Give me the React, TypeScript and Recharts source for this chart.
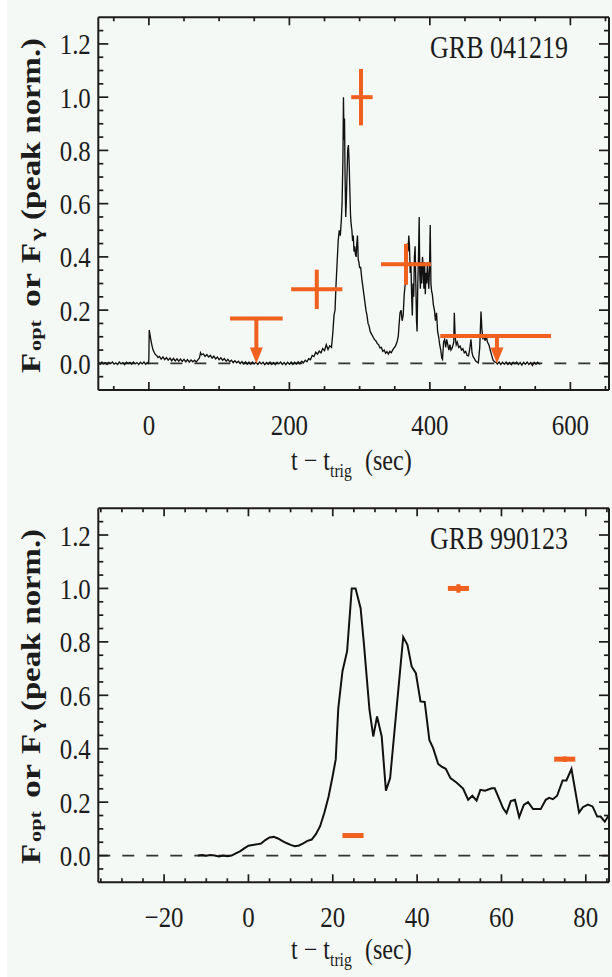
import React from 'react';
import { ComposedChart, Line, Scatter, XAxis, YAxis, ErrorBar, ReferenceLine } from 'recharts';

const ORANGE = '#f0601e';
const INK = '#1c1c1c';
const FONT = '"Liberation Serif", "Times New Roman", serif';

type Pt = [number, number];

// ---------- GRB 041219: gamma-ray light curve (t - t_trig [s], peak-normalised flux) ----------
const grb041219PreTrigger: Pt[] = [
  [-72, 0.004], [-69.5, -0.003], [-67, 0.005], [-64.5, -0.002], [-62, 0.003], [-59.5, -0.004],
  [-57, 0.004], [-54.5, -0.001], [-52, 0.005], [-49.5, -0.003], [-47, 0.002], [-44.5, -0.004],
  [-42, 0.005], [-39.5, -0.002], [-37, 0.003], [-34.5, -0.005], [-32, 0.004], [-29.5, -0.001],
  [-27, 0.004], [-24.5, -0.003], [-22, 0.005], [-19.5, -0.002], [-17, 0.003], [-14.5, -0.004],
  [-12, 0.004], [-9.5, -0.002], [-7, 0.005], [-4.5, -0.003], [-2, 0.003], [-0.5, 0.0],
];

const grb041219Precursor: Pt[] = [
  [0, 0.02], [0.5, 0.125], [1.5, 0.11], [3, 0.085], [4.5, 0.066], [6, 0.05], [7.5, 0.042],
  [9, 0.034], [11, 0.03], [13, 0.022], [15, 0.026], [17.5, 0.016], [20, 0.024], [22.5, 0.014],
  [25, 0.022], [27.5, 0.012], [30, 0.02], [32.5, 0.01], [35, 0.019], [37.5, 0.009], [40, 0.017],
  [42.5, 0.008], [45, 0.016], [47.5, 0.007], [50, 0.015], [52.5, 0.006], [55, 0.014],
  [57.5, 0.005], [60, 0.013], [62.5, 0.006], [65, 0.012], [67.5, 0.005], [70, 0.014],
];

const grb041219Bump: Pt[] = [
  [72, 0.02], [73.5, 0.04], [75, 0.032], [77.5, 0.036], [80, 0.026], [82.5, 0.033], [85, 0.024],
  [87.5, 0.03], [90, 0.02], [92.5, 0.027], [95, 0.017], [97.5, 0.024], [100, 0.014], [102.5, 0.021],
  [105, 0.012], [107.5, 0.018], [110, 0.008], [112.5, 0.015], [115, 0.006], [117.5, 0.012],
  [120, 0.003], [122.5, 0.01], [125, 0.002], [127.5, 0.008], [130, -0.001], [132.5, 0.007],
  [135, -0.002], [137.5, 0.006], [140, -0.003], [142.5, 0.005], [145, -0.003], [147.5, 0.005],
  [150, -0.002],
];

const grb041219Quiet: Pt[] = [
  [152.5, 0.004], [155, -0.004], [157.5, 0.005], [160, -0.002], [162.5, 0.004], [165, -0.005],
  [167.5, 0.003], [170, -0.003], [172.5, 0.005], [175, -0.004], [177.5, 0.003], [180, -0.005],
  [182.5, 0.004], [185, -0.002], [187.5, 0.005], [190, -0.004], [192.5, 0.003], [195, -0.005],
  [197.5, 0.004], [200, -0.003], [202.5, 0.005], [205, -0.004], [207.5, 0.004], [210, -0.002],
  [212.5, 0.006], [215, -0.001], [217.5, 0.008], [220, 0.002], [222.5, 0.012], [225, 0.006],
  [227.5, 0.018], [230, 0.014], [232.5, 0.03], [235, 0.026], [237.5, 0.042], [240, 0.035],
  [242.5, 0.046], [245, 0.04], [247.5, 0.056], [250, 0.048], [252.5, 0.07], [255, 0.052],
  [257.5, 0.066], [260, 0.06],
];

const grb041219MainPulse: Pt[] = [
  [262, 0.12], [263.5, 0.18], [265, 0.2], [266.5, 0.3], [268, 0.38], [269.5, 0.46], [271, 0.5],
  [272.5, 0.48], [274, 0.54], [275, 0.6], [276.2, 0.76], [277, 1.0], [277.8, 0.84], [278.5, 0.92],
  [279.3, 0.7], [280.2, 0.55], [281, 0.6], [282, 0.7], [283, 0.8], [284, 0.82], [285, 0.76],
  [286, 0.66], [287, 0.56], [288, 0.52], [289, 0.5], [290, 0.46], [291, 0.48], [292, 0.42],
  [293, 0.44], [294, 0.41], [295, 0.4], [296, 0.45], [297, 0.48], [298, 0.39], [299, 0.38],
  [300, 0.36], [301.5, 0.36], [303, 0.32], [304.5, 0.29], [306, 0.26], [307.5, 0.23], [309, 0.2],
  [310.5, 0.18], [312, 0.15], [313.5, 0.14], [315, 0.12], [317, 0.11], [319, 0.1], [321, 0.09],
  [323, 0.085], [325, 0.075], [327, 0.07], [329, 0.058], [331, 0.06], [333, 0.045], [335, 0.05],
  [337, 0.038], [339, 0.044], [341, 0.035], [343, 0.045], [345, 0.04], [347, 0.05], [349, 0.058],
  [351, 0.065], [353, 0.078], [355, 0.1],
];

const grb041219SecondPulse: Pt[] = [
  [356, 0.14], [357.5, 0.19], [359, 0.2], [360.5, 0.16], [362, 0.18], [363.5, 0.26], [365, 0.3],
  [366.5, 0.4], [368, 0.45], [369, 0.42], [370, 0.48], [371, 0.44], [372, 0.34], [373, 0.38],
  [374, 0.26], [375, 0.18], [376, 0.3], [377, 0.25], [378, 0.4], [379, 0.44], [380, 0.3],
  [381, 0.16], [381.8, 0.12], [382.8, 0.3], [383.8, 0.4], [384.8, 0.55], [385.6, 0.34],
  [386.5, 0.28], [387.5, 0.38], [388.5, 0.3], [389.5, 0.4], [390.5, 0.36], [391.5, 0.28],
  [392.5, 0.38], [393.5, 0.26], [394.5, 0.34], [395.5, 0.3], [396.5, 0.38], [397.5, 0.32],
  [398.5, 0.28], [399.5, 0.36], [400.5, 0.52], [401.5, 0.3], [402.5, 0.27], [403.5, 0.26],
  [405, 0.22], [406.5, 0.2], [408, 0.16], [409.5, 0.19], [411, 0.12], [412.5, 0.1], [414, 0.07],
  [415.5, 0.05], [417, 0.02], [418, 0.015],
];

const grb041219Tail: Pt[] = [
  [419.5, 0.08], [421, 0.09], [422.5, 0.06], [424, 0.09], [425.5, 0.07], [427, 0.05], [428.5, 0.07],
  [430, 0.05], [432, 0.06], [434, 0.08], [434.8, 0.19], [436, 0.1], [437.5, 0.07], [439, 0.08],
  [441, 0.06], [443, 0.065], [445, 0.05], [447, 0.055], [449, 0.04], [451, 0.045], [453, 0.03],
  [455, 0.028], [456.5, 0.05], [458.5, 0.09], [460, 0.04], [461.5, 0.025], [463, 0.02], [465, 0.01],
  [467, 0.005], [469, 0.002], [471, 0.06], [472.8, 0.195], [474, 0.13], [475.5, 0.09], [477, 0.11],
  [478.5, 0.085], [480.5, 0.1], [482, 0.08], [484, 0.07], [486, 0.05], [488, 0.03], [490, 0.012],
  [492, 0.006], [494, 0.004], [496, -0.002], [498.5, 0.005], [501, -0.004], [503.5, 0.004],
  [506, -0.003], [508.5, 0.005], [511, -0.004], [513.5, 0.003], [516, -0.005], [518.5, 0.004],
  [521, -0.002], [523.5, 0.005], [526, -0.004], [528.5, 0.003], [531, -0.006], [533.5, 0.004],
  [536, -0.003], [538.5, 0.005], [541, -0.004], [543.5, 0.003], [546, -0.008], [548.5, 0.004],
  [551, -0.003], [553.5, 0.004], [556, -0.002], [557, 0.0],
];

// Optical points for GRB 041219: detections and upper limits (arrow tips at zero)
const opt041219Detections = [
  { t: 239, f: 0.278, tErr: [36.5, 36.5], fErr: [0.074, 0.074] },
  { t: 302, f: 1.0, tErr: [14, 16.5], fErr: [0.106, 0.106] },
  { t: 366, f: 0.372, tErr: [35.5, 35.5], fErr: [0.077, 0.077] },
];
const opt041219Limits = [
  { t: 153, f: 0.169, tErr: [37.5, 37.5] },
  { t: 495.5, f: 0.103, tErr: [80.7, 77] },
];
const LIMIT_TIP = 0;

// ---------- GRB 990123 ----------
const grb990123Gamma: Pt[] = [
  [-12, 0.0], [-11, 0.002], [-10, -0.001], [-9, 0.002], [-8, 0.0], [-7, -0.003], [-6, 0.0],
  [-5, -0.002], [-4, 0.0], [-3, 0.008], [-2, 0.016], [-1, 0.027], [0, 0.037], [1, 0.04], [2, 0.042],
  [3, 0.045], [4, 0.058], [5, 0.068], [6, 0.07], [7, 0.064], [8, 0.055], [9, 0.047], [10, 0.04],
  [11, 0.035], [12, 0.038], [13, 0.046], [14, 0.055], [15, 0.06], [16, 0.08], [17, 0.11], [18, 0.16],
  [19, 0.22], [20, 0.3], [20.7, 0.36], [21.3, 0.55], [22.3, 0.69], [23.4, 0.765], [24.5, 1.0],
  [25.4, 1.0], [26.6, 0.926], [27.4, 0.79], [28.7, 0.546], [29.6, 0.446], [30.5, 0.521],
  [31.6, 0.446], [32.6, 0.243], [33.6, 0.29], [36.7, 0.818], [37.7, 0.789], [38.7, 0.708],
  [39.7, 0.683], [40.8, 0.577], [41.8, 0.575], [42.9, 0.433], [43.8, 0.402], [45, 0.343],
  [45.8, 0.333], [46.8, 0.325], [47.9, 0.29], [49.4, 0.273], [50.9, 0.251], [52.1, 0.209],
  [53.1, 0.224], [54.1, 0.206], [55, 0.246], [56.1, 0.243], [57.7, 0.252], [58.4, 0.252],
  [60.4, 0.177], [61.2, 0.159], [62.2, 0.204], [63.2, 0.209], [64.2, 0.144], [65.3, 0.19],
  [66.3, 0.2], [67.5, 0.174], [69.3, 0.174], [70.5, 0.209], [71.3, 0.216], [72.2, 0.211],
  [73.2, 0.224], [74.5, 0.281], [75.4, 0.281], [76.6, 0.324], [78.4, 0.161], [79.3, 0.181],
  [80.5, 0.191], [81.6, 0.184], [82.7, 0.146], [83.5, 0.146], [84.5, 0.127], [85.5, 0.152],
];
const opt990123Detections = [
  { t: 24.8, f: 0.075, tErr: [2.5, 2.5], fErr: [0, 0] },
  { t: 49.8, f: 1.0, tErr: [2.5, 2.5], fErr: [0.016, 0.016] },
  { t: 75.0, f: 0.361, tErr: [2.5, 2.5], fErr: [0.01, 0.01] },
];

// ---------- axes ----------
const fluxDomain: [number, number] = [-0.1, 1.3];
const fluxTicks = [
  -0.05, 0, 0.05, 0.1, 0.15, 0.2, 0.25, 0.3, 0.35, 0.4, 0.45, 0.5, 0.55, 0.6, 0.65, 0.7, 0.75,
  0.8, 0.85, 0.9, 0.95, 1.0, 1.05, 1.1, 1.15, 1.2, 1.25,
];
const fluxMajor = [0, 0.2, 0.4, 0.6, 0.8, 1.0, 1.2];

const time041219Domain: [number, number] = [-72, 655];
const time041219Ticks = [-50, 0, 50, 100, 150, 200, 250, 300, 350, 400, 450, 500, 550, 600, 650];
const time041219Major = [0, 200, 400, 600];

const time990123Domain: [number, number] = [-35.6, 85.5];
const time990123Ticks = [-35, -30, -25, -20, -15, -10, -5, 0, 5, 10, 15, 20, 25, 30, 35, 40, 45, 50, 55, 60, 65, 70, 75, 80, 85];
const time990123Major = [-20, 0, 20, 40, 60, 80];

const toRows = (pts: Pt[]) => pts.map(([t, f]) => ({ t, f }));
const isMajor = (major: number[], v: number) => major.some((m) => Math.abs(m - v) < 1e-6);
const fmtTime = (v: number) => (v < 0 ? '\u2212' + Math.abs(v) : String(v));
const fmtFlux = (v: number) => v.toFixed(1);

const TICK_FONT = 30;
const SQUEEZE = 0.83;

type Side = 'bottom' | 'top' | 'left' | 'right';

const makeTick = (side: Side, major: number[], labels: boolean) => (props: any) => {
  const { x, y, payload } = props;
  const v = payload.value as number;
  const mj = isMajor(major, v);
  const horizontal = side === 'bottom' || side === 'top';
  const len = horizontal ? (mj ? 8 : 4) : mj ? 10 : 5;
  let line;
  if (side === 'bottom') line = <line x1={x} x2={x} y1={y} y2={y - len} />;
  else if (side === 'top') line = <line x1={x} x2={x} y1={y} y2={y + len} />;
  else if (side === 'left') line = <line x1={x} x2={x + len} y1={y} y2={y} />;
  else line = <line x1={x} x2={x - len} y1={y} y2={y} />;
  let label = null;
  if (labels && mj) {
    if (side === 'bottom') {
      label = (
        <text transform={`translate(${x},${y + 44.5}) scale(${SQUEEZE},1)`} textAnchor="middle"
          fontFamily={FONT} fontSize={TICK_FONT} fill={INK} stroke="none">
          {fmtTime(v)}
        </text>
      );
    } else if (side === 'left') {
      label = (
        <text transform={`translate(${x - 7.5},${y + 10.5}) scale(${SQUEEZE},1)`} textAnchor="end"
          fontFamily={FONT} fontSize={TICK_FONT} fill={INK} stroke="none">
          {fmtFlux(v)}
        </text>
      );
    }
  }
  return (
    <g stroke={INK} strokeWidth={1.7}>
      {line}
      {label}
    </g>
  );
};

const Arrowhead = (props: any) => {
  const { cx, cy } = props;
  if (cx == null || cy == null) return <g />;
  return <path d={`M${cx - 6.5},${cy - 16} L${cx + 6.5},${cy - 16} L${cx},${cy} Z`} fill={ORANGE} />;
};
const NoMarker = () => <g />;

const YTitle = ({ dy }: { dy: number }) => (
  <g transform={`translate(39.5,${373 + dy}) rotate(-90) scale(1,${SQUEEZE})`} fontFamily={FONT}
    fontWeight="bold" fill={INK}>
    <text x={0} y={0} fontSize={33}>F</text>
    <text x={22} y={2} fontSize={20} textLength={31} lengthAdjust="spacingAndGlyphs">opt</text>
    <text x={66} y={0} fontSize={33} textLength={34} lengthAdjust="spacingAndGlyphs">or</text>
    <text x={110} y={0} fontSize={33}>F</text>
    <text x={132} y={3} fontSize={21} textLength={13} lengthAdjust="spacingAndGlyphs">γ</text>
    <text x={153} y={0} fontSize={33} textLength={182} lengthAdjust="spacingAndGlyphs">(peak norm.)</text>
  </g>
);

const XTitle = ({ baseline }: { baseline: number }) => (
  <g fontFamily={FONT} fill={INK}>
    <text transform={`translate(291,${baseline}) scale(${SQUEEZE},1)`} fontSize={29}>t − t</text>
    <text transform={`translate(330,${baseline + 7}) scale(${SQUEEZE},1)`} fontSize={19}>trig</text>
    <text transform={`translate(365,${baseline}) scale(${SQUEEZE},1)`} fontSize={29}>(sec)</text>
  </g>
);

interface PanelProps {
  height: number;
  margin: { top: number; right: number; bottom: number; left: number };
  title: string;
  titleBaseline: number;
  gamma: { t: number; f: number }[];
  gammaWidth: number;
  timeDomain: [number, number];
  timeTicks: number[];
  timeMajor: number[];
  detections: any[];
  detectionWidth: number;
  limits?: any[];
  yLabelShift: number;
  xTitleBaseline: number;
}

// axes take 1px of room each (a zero-sized axis is not drawn)
const AXIS_ROOM = 1;

const Panel = (p: PanelProps) => {
  const limitRows = (p.limits || []).map((d) => ({ ...d, drop: [d.f - LIMIT_TIP - 0.03, 0] }));
  const tipRows = (p.limits || []).map((d) => ({ t: d.t, f: LIMIT_TIP }));
  const margin = {
    top: p.margin.top - AXIS_ROOM,
    right: p.margin.right - AXIS_ROOM,
    bottom: p.margin.bottom - AXIS_ROOM,
    left: p.margin.left - AXIS_ROOM,
  };
  return (
    <ComposedChart width={612} height={p.height} margin={margin}>
      <XAxis xAxisId={0} dataKey="t" type="number" domain={p.timeDomain} allowDataOverflow
        ticks={p.timeTicks} interval={0} height={AXIS_ROOM} tickSize={0} tickMargin={0} tickLine={false}
        axisLine={{ stroke: INK, strokeWidth: 2 }} tick={makeTick('bottom', p.timeMajor, true)} />
      <XAxis xAxisId="top" orientation="top" dataKey="t" type="number" domain={p.timeDomain}
        allowDataOverflow ticks={p.timeTicks} interval={0} height={AXIS_ROOM} tickSize={0} tickMargin={0}
        tickLine={false} axisLine={{ stroke: INK, strokeWidth: 2 }} tick={makeTick('top', p.timeMajor, false)} />
      <YAxis yAxisId={0} type="number" domain={fluxDomain} allowDataOverflow ticks={fluxTicks}
        interval={0} width={AXIS_ROOM} tickSize={0} tickMargin={0} tickLine={false}
        axisLine={{ stroke: INK, strokeWidth: 2 }} tick={makeTick('left', fluxMajor, true)} />
      <YAxis yAxisId="right" orientation="right" type="number" domain={fluxDomain} allowDataOverflow
        ticks={fluxTicks} interval={0} width={AXIS_ROOM} tickSize={0} tickMargin={0} tickLine={false}
        axisLine={{ stroke: INK, strokeWidth: 2 }} tick={makeTick('right', fluxMajor, false)} />

      <ReferenceLine y={0} stroke="#333" strokeWidth={1.6} strokeDasharray="12 12" />

      <Line data={p.gamma} dataKey="f" type="linear" stroke="#111" strokeWidth={p.gammaWidth}
        dot={false} activeDot={false} isAnimationActive={false} />

      <Scatter data={p.detections} dataKey="f" shape={NoMarker} isAnimationActive={false}>
        <ErrorBar dataKey="tErr" direction="x" width={0} stroke={ORANGE} strokeWidth={p.detectionWidth} />
        <ErrorBar dataKey="fErr" direction="y" width={0} stroke={ORANGE} strokeWidth={4} />
      </Scatter>

      {p.limits && (
        <Scatter data={limitRows} dataKey="f" shape={NoMarker} isAnimationActive={false}>
          <ErrorBar dataKey="tErr" direction="x" width={0} stroke={ORANGE} strokeWidth={4} />
          <ErrorBar dataKey="drop" direction="y" width={0} stroke={ORANGE} strokeWidth={4} />
        </Scatter>
      )}
      {p.limits && <Scatter data={tipRows} dataKey="f" shape={Arrowhead} isAnimationActive={false} />}

      <text x={430} y={p.titleBaseline} fontFamily={FONT} fontSize={32} fill={INK} textLength={138}
        lengthAdjust="spacingAndGlyphs">
        {p.title}
      </text>
      <YTitle dy={p.yLabelShift} />
      <XTitle baseline={p.xTitleBaseline} />
    </ComposedChart>
  );
};

export default function App() {
  return (
    <div style={{ position: 'absolute', left: 0, top: 0, width: 612, height: 977, background: '#ffffff', overflow: 'hidden' }}>
      <div style={{ position: 'absolute', left: 7, top: 0, width: 605, height: 977, background: '#f5f9f6' }} />
      <div style={{ position: 'absolute', left: 0, top: 0 }}>
        <Panel
          height={490}
          margin={{ top: 17.3, right: 3, bottom: 100, left: 98.3 }}
          title="GRB 041219"
          titleBaseline={58.3}
          gamma={toRows([
            ...grb041219PreTrigger, ...grb041219Precursor, ...grb041219Bump, ...grb041219Quiet,
            ...grb041219MainPulse, ...grb041219SecondPulse, ...grb041219Tail,
          ])}
          gammaWidth={1.35}
          timeDomain={time041219Domain}
          timeTicks={time041219Ticks}
          timeMajor={time041219Major}
          detections={opt041219Detections}
          detectionWidth={4}
          limits={opt041219Limits}
          yLabelShift={0}
          xTitleBaseline={469.5}
        />
      </div>
      <div style={{ position: 'absolute', left: 0, top: 490 }}>
        <Panel
          height={487}
          margin={{ top: 18.3, right: 3, bottom: 94.7, left: 98.3 }}
          title="GRB 990123"
          titleBaseline={59.3}
          gamma={toRows(grb990123Gamma)}
          gammaWidth={2}
          timeDomain={time990123Domain}
          timeTicks={time990123Ticks}
          timeMajor={time990123Major}
          detections={opt990123Detections}
          detectionWidth={5}
          yLabelShift={1}
          xTitleBaseline={468.5}
        />
      </div>
    </div>
  );
}
